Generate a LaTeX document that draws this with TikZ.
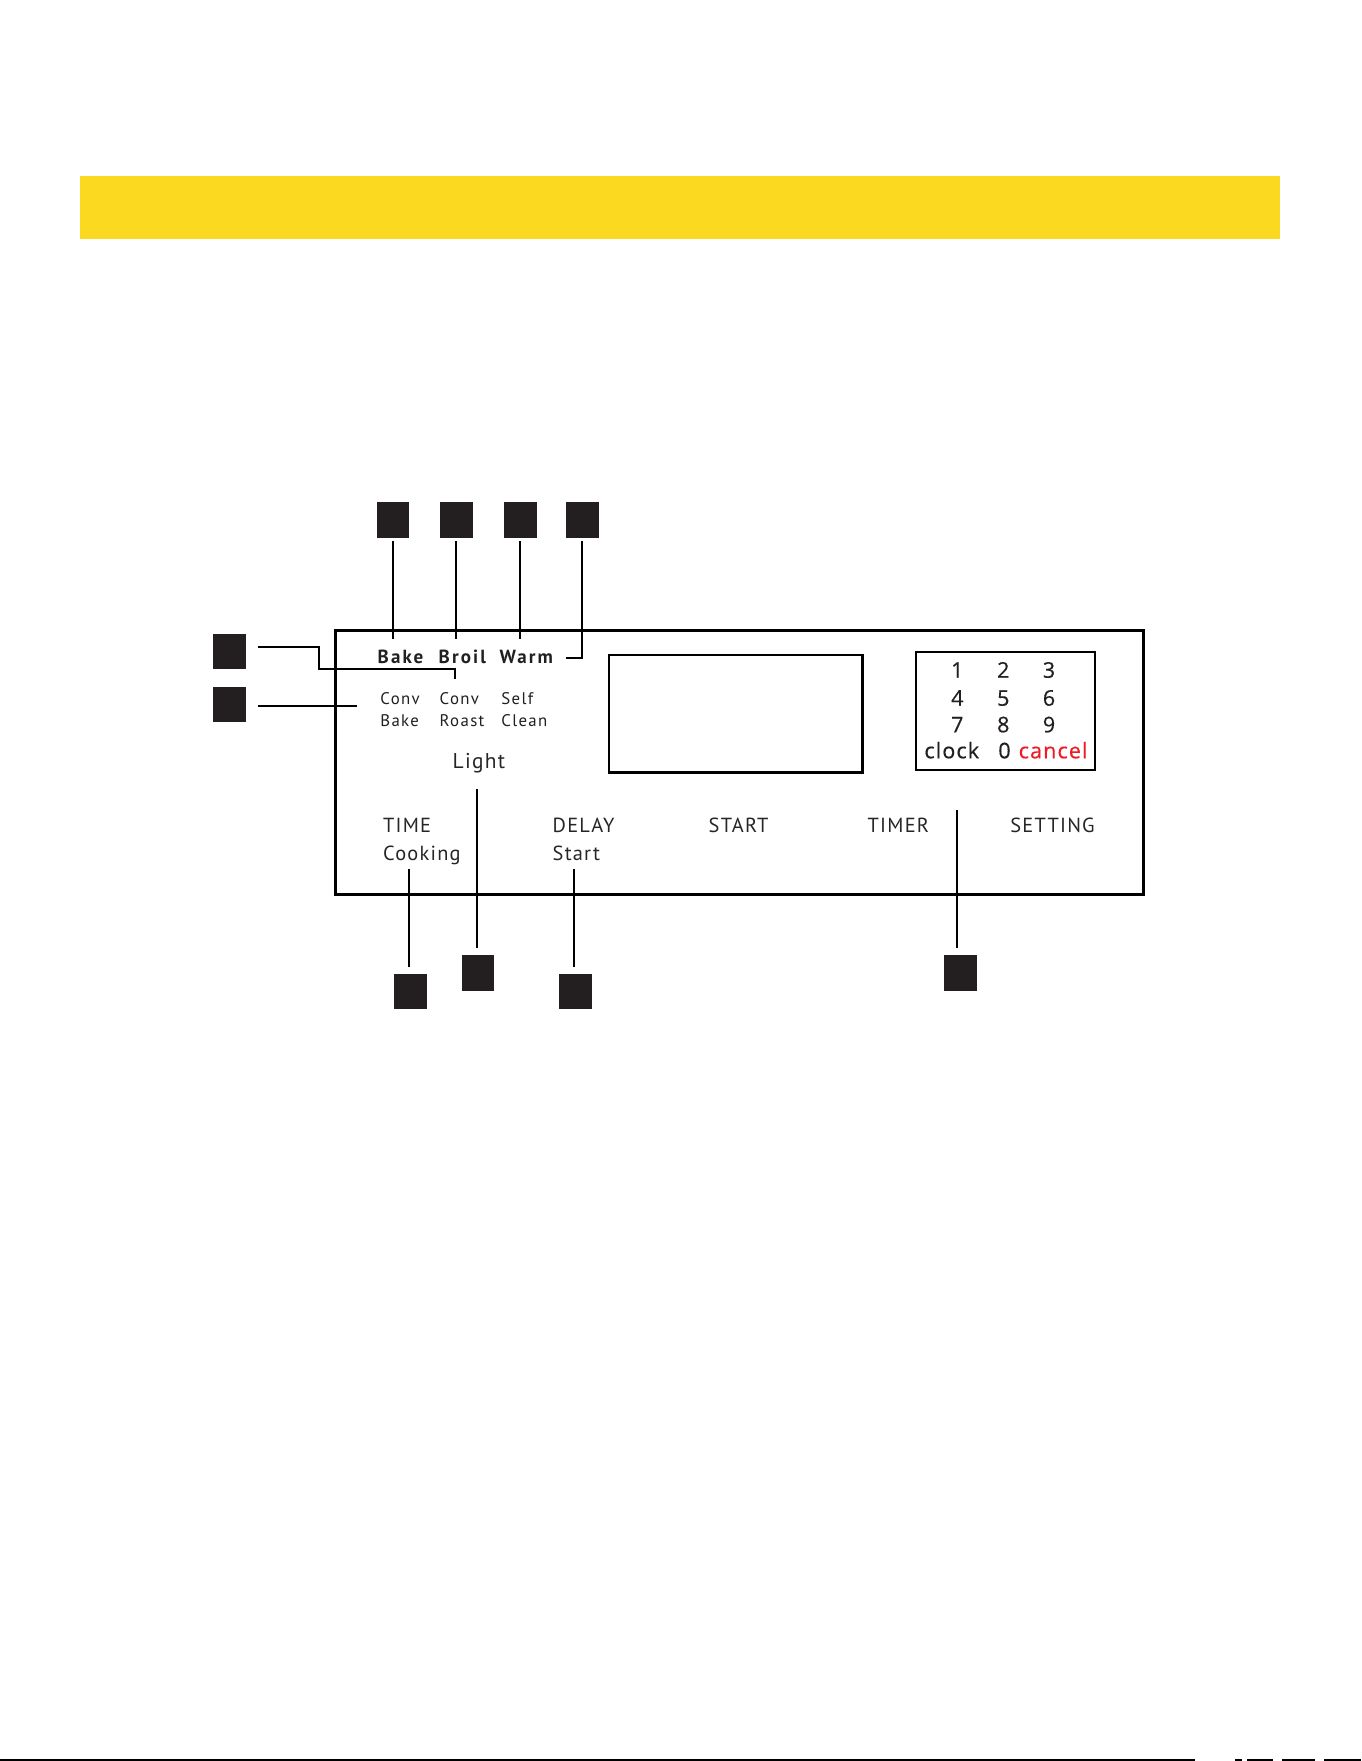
\documentclass[tikz,border=0pt]{standalone}
\usepackage{fontspec}
\setmainfont{PT Sans}
\newfontfamily\lblfont[LetterSpace=6]{PT Sans}
\newfontfamily\smallfont[LetterSpace=8]{PT Sans}
\newfontfamily\boldfont[LetterSpace=11]{PT Sans Bold}
\newfontfamily\padfont[LetterSpace=5,FakeBold=0.4]{Open Sans}
\definecolor{bandyellow}{RGB}{252,217,33}
\definecolor{sqblack}{RGB}{35,31,32}
\definecolor{padred}{RGB}{237,28,36}
\begin{document}
\begin{tikzpicture}[x=0.5pt,y=-0.5pt,
  sq/.style={fill=sqblack,draw=none,inner sep=0,minimum width=16.25pt,minimum height=17.75pt},
  lead/.style={line width=1pt,draw=black},
  frame/.style={line width=1.25pt,draw=black},
  lbl/.style={anchor=base west,inner sep=0,text=black!85,font=\lblfont\fontsize{10.2}{12}\selectfont},
  boldlbl/.style={anchor=base west,inner sep=0,text=sqblack,font=\boldfont\fontsize{9.5}{11}\selectfont},
  smalllbl/.style={anchor=base west,inner sep=0,text=sqblack,font=\smallfont\fontsize{8.4}{10}\selectfont},
  padlbl/.style={anchor=base,inner sep=0,text=sqblack,font=\padfont\fontsize{10.8}{12}\selectfont}]
\useasboundingbox (0,0) rectangle (1361,1761);
\fill[white] (0,0) rectangle (1361,1761);
% yellow band
\fill[bandyellow] (79.7,176) rectangle (1280,239);
% page bottom rule
\draw[line width=0.7pt] (0,1760) -- (1195,1760);
\draw[line width=0.7pt] (1235,1760) -- (1242,1760) (1247,1760) -- (1273,1760) (1282,1760) -- (1315,1760) (1324,1760) -- (1361,1760);
% panel
\node[frame,inner sep=0,minimum width=404pt,minimum height=132pt,anchor=north west] (panel) at (334,629) {};
% display
\node[draw,line width=0.85pt,inner sep=0,minimum width=126.2pt,minimum height=58.35pt,anchor=north west] (display) at (608.3,654) {};
\draw[line width=1.35pt] (display.north east) -- (display.south east) -- (display.south west);
% keypad
\node[frame,line width=1.15pt,inner sep=0,minimum width=89.5pt,minimum height=58.85pt,anchor=north west] (keypad) at (915,651) {};
% top labels
\node[boldlbl] (bake) at (377.3,663.3) {Bake};
\node[boldlbl] (broil) at (438.3,663.3) {Broil};
\node[boldlbl] (warm) at (499.3,663.3) {Warm};
\node[smalllbl] (conv1) at (380,704) {Conv};
\node[smalllbl] (conv2) at (439.3,704) {Conv};
\node[smalllbl] (self) at (501,704) {Self};
\node[smalllbl] (bake2) at (380,726.7) {Bake};
\node[smalllbl] (roast) at (439.3,726.7) {Roast};
\node[smalllbl] (clean) at (501,726.7) {Clean};
\node[lbl,font=\lblfont\fontsize{10.7}{12}\selectfont] (light) at (452.3,768.7) {Light};
% bottom labels
\node[lbl] (time) at (382.7,832.7) {TIME};
\node[lbl] (cooking) at (382.7,860) {Cooking};
\node[lbl] (delay) at (552.3,832.7) {DELAY};
\node[lbl] (start) at (552.3,860) {Start};
\node[lbl] (startb) at (708.3,832.7) {START};
\node[lbl] (timer) at (867.3,832.7) {TIMER};
\node[lbl] (setting) at (1010,832.7) {SETTING};
% keypad labels
\node[padlbl] (k1) at (957.3,677.7) {1};
\node[padlbl] (k2) at (1003.3,677.7) {2};
\node[padlbl] (k3) at (1049,677.7) {3};
\node[padlbl] (k4) at (957.3,705.7) {4};
\node[padlbl] (k5) at (1003.3,705.7) {5};
\node[padlbl] (k6) at (1049,705.7) {6};
\node[padlbl] (k7) at (957.3,732.3) {7};
\node[padlbl] (k8) at (1003.3,732.3) {8};
\node[padlbl] (k9) at (1049,732.3) {9};
\node[padlbl,anchor=base west] (kclock) at (924,758.3) {clock};
\node[padlbl] (k0) at (1004.5,758.3) {0};
\node[padlbl,anchor=base west,text=padred] (kcancel) at (1018.3,758.3) {cancel};
% callout squares
\node[sq] (s1) at (392.85,519.85) {};
\node[sq] (s2) at (456.35,519.85) {};
\node[sq] (s3) at (520.35,519.85) {};
\node[sq] (s4) at (582.35,519.85) {};
\node[sq] (sa) at (229.5,651.35) {};
\node[sq] (sb) at (229.5,704.65) {};
\node[sq] (sc) at (410.35,991.65) {};
\node[sq] (sl) at (478,972.85) {};
\node[sq] (sd) at (575.5,991.65) {};
\node[sq] (st) at (960.35,972.85) {};
% leader end points
\coordinate (e1) at (392.85,639);
\coordinate (e2) at (456.35,639);
\coordinate (e3) at (520.35,639);
\coordinate (e4) at (566,658.3);
\coordinate (ea) at (455,679.3);
\coordinate (eb) at (356.7,706);
\coordinate (ec) at (409,869);
\coordinate (el) at (477,789);
\coordinate (ed) at (574,869);
\coordinate (et) at (957,810);
% leaders
\draw[lead] ([yshift=-1.6pt]s1.south) -- (e1);
\draw[lead] ([yshift=-1.6pt]s2.south) -- (e2);
\draw[lead] ([yshift=-1.6pt]s3.south) -- (e3);
\draw[lead] ([yshift=-1.6pt]s4.south) -- (582.35,658.3) -- (e4);
\draw[lead] (258.3,646.7) -- (318.7,646.7) -- (318.7,669) -- (455,669) -- (ea);
\draw[lead] (258.3,706) -- (eb);
\draw[lead] (409,967.3) -- (ec);
\draw[lead] (477,948.3) -- (el);
\draw[lead] (574,967.3) -- (ed);
\draw[lead] (957,948.3) -- (et);
\end{tikzpicture}
\end{document}
